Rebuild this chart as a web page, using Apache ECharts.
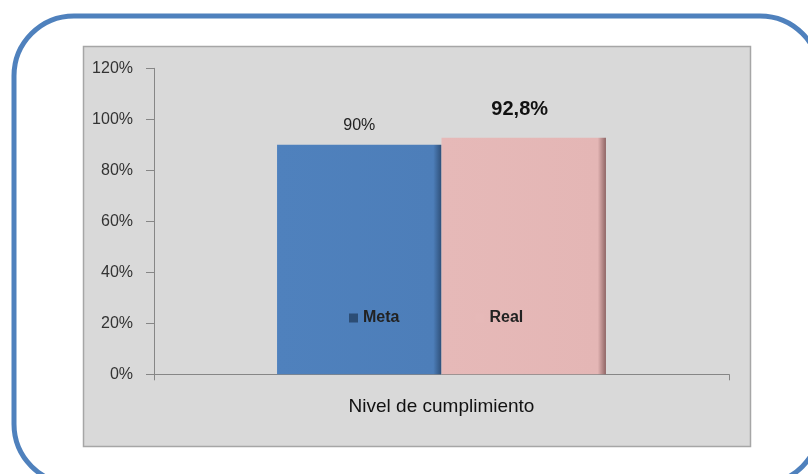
<!DOCTYPE html>
<html>
<head>
<meta charset="utf-8">
<script src="https://cdn.jsdelivr.net/npm/echarts@6/dist/echarts.min.js"></script>
<style>
  html, body { margin: 0; padding: 0; background: #fff; }
  #chart { width: 808px; height: 474px; }
</style>
</head>
<body>
<div id="chart"></div>
<script>
// datos
var categories = ["Nivel de cumplimiento"];
var seriesNames = ["Meta", "Real"];
var metaValues = [90];
var realValues = [92.8];
var metaLabels = ["90%"];
var realLabels = ["92,8%"];
var yTicks = [0, 20, 40, 60, 80, 100, 120];

function initChart() {
  var myChart = echarts.init(document.getElementById("chart"));
  var lineOption = {
    lineStyle: {
      color: "#868686",
      width: 1
    }
  };
  myChart.setOption({
    animation: false,
    textStyle: { fontFamily: "Liberation Sans" },
    graphic: [
      {
        type: "rect",
        z: -20,
        shape: { x: 14, y: 16, width: 806, height: 468, r: 60 },
        style: { fill: "#fff", stroke: "#4f81bd", lineWidth: 5 }
      },
      {
        type: "rect",
        z: -10,
        shape: { x: 83.5, y: 46.5, width: 667, height: 400 },
        style: { fill: "#d9d9d9", stroke: "#a6a6a6", lineWidth: 1.5 }
      }
    ],
    legend: {
      left: 344,
      top: 305,
      itemWidth: 9,
      itemHeight: 9,
      itemGap: 76,
      textStyle: { fontSize: 16, fontWeight: "bold", color: "#222" },
      data: [
        { name: seriesNames[0], icon: "rect", itemStyle: { color: "#2c4d75" } },
        { name: seriesNames[1], icon: "rect", itemStyle: { color: "#e6b9b8" } }
      ]
    },
    grid: {
      left: 154,
      right: 79,
      top: 68.3,
      bottom: 99.7
    },
    xAxis: [
      {
        type: "category",
        data: categories,
        axisLine: lineOption,
        axisTick: { show: true, length: 6, lineStyle: { color: "#868686" } },
        axisLabel: {
          margin: 23,
          color: "#111",
          fontSize: 19
        }
      }
    ],
    yAxis: [
      {
        type: "value",
        min: yTicks[0],
        max: yTicks[yTicks.length - 1],
        interval: 20,
        axisLine: { show: true, lineStyle: { color: "#868686", width: 1 } },
        axisTick: { show: true, length: 8, lineStyle: { color: "#868686" } },
        splitLine: { show: false },
        axisLabel: {
          formatter: "{value}%",
          color: "#333",
          fontSize: 16,
          margin: 21
        }
      }
    ],
    series: [
      {
        name: seriesNames[0],
        type: "bar",
        data: metaValues,
        barGap: "0%",
        barCategoryGap: "42.8%",
        itemStyle: {
          color: new echarts.graphic.LinearGradient(0, 0, 1, 0, [
            { offset: 0, color: "#4f81bd" },
            { offset: 0.95, color: "#4d7eb9" },
            { offset: 1, color: "#2e4f78" }
          ])
        },
        label: {
          show: true,
          position: "top",
          distance: 11,
          color: "#222",
          fontSize: 16,
          formatter: function (p) { return metaLabels[p.dataIndex]; }
        }
      },
      {
        name: seriesNames[1],
        type: "bar",
        data: realValues,
        itemStyle: {
          color: new echarts.graphic.LinearGradient(0, 0, 1, 0, [
            { offset: 0, color: "#e6b9b8" },
            { offset: 0.95, color: "#e4b6b5" },
            { offset: 1, color: "#8f6565" }
          ])
        },
        label: {
          show: true,
          position: "top",
          distance: 18,
          offset: [-4, 0],
          color: "#111",
          fontSize: 20,
          fontWeight: "bold",
          formatter: function (p) { return realLabels[p.dataIndex]; }
        }
      }
    ]
  });
}

initChart();
</script>
</body>
</html>
